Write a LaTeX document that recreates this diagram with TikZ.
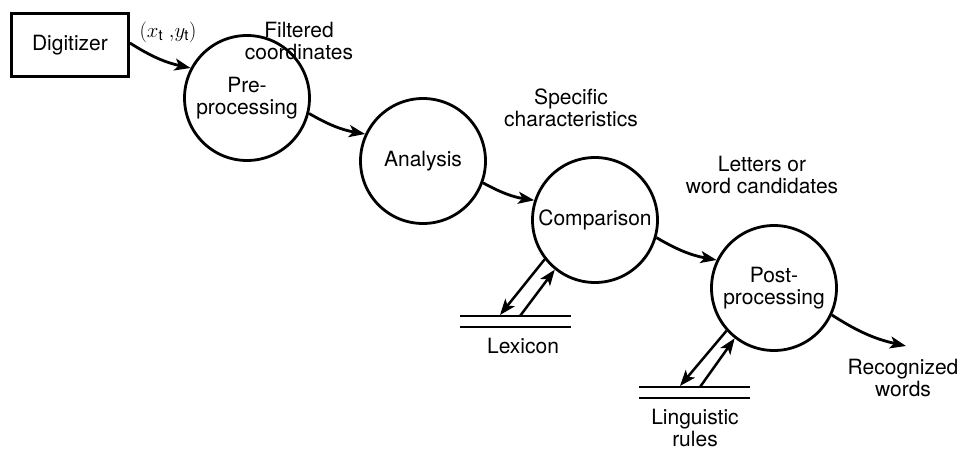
\documentclass[tikz,border=0pt]{standalone}
\usepackage{fontspec}
\setmainfont{TeX Gyre Heros}
\usetikzlibrary{arrows.meta}
\begin{document}
\begin{tikzpicture}[x=1pt,y=-1pt,
  txt/.style={align=center, inner sep=0pt, font=\fontsize{21}{21.5}\selectfont},
  proc/.style={circle, draw, line width=2.8pt, minimum size=125pt, inner sep=0pt, align=center, font=\fontsize{21}{21.5}\selectfont},
  boxnode/.style={draw, line width=2.8pt, minimum width=117pt, minimum height=63pt, inner sep=0pt, font=\fontsize{21}{21.5}\selectfont},
  flow/.style={-{Stealth[length=16pt,width=12pt,inset=4pt]}, line width=2.8pt},
  store/.style={line width=2.6pt}]
\useasboundingbox (0,0) rectangle (961,452);

\node[boxnode] (dig) at (70,45) {Digitizer};
\node[proc] (pre) at (247,98) {Pre-\\processing};
\node[proc] (ana) at (423,161) {Analysis};
\node[proc] (cmp) at (595,220) {Comparison};
\node[proc] (post) at (774,288) {Post-\\processing};

\node[txt] (xy) at (168,32) {$(x_{\mathrm{t}}\;{,}y_{\mathrm{t}})$};
\node[txt] (filt) at (299,41) {Filtered\\coordinates};
\node[txt] (spec) at (571,108) {Specific\\characteristics};
\node[txt] (lett) at (762,175) {Letters or\\word candidates};
\node[txt] (lexl) at (523,346) {Lexicon};
\node[txt] (ling) at (695,428) {Linguistic\\rules};
\node[txt] (recw) at (903,378) {Recognized\\words};

% data stores
\coordinate (lex1a) at (460,316);
\coordinate (lex1b) at (571,316);
\coordinate (lex2a) at (460,327);
\coordinate (lex2b) at (571,327);
\draw[store] (lex1a) -- (lex1b);
\draw[store] (lex2a) -- (lex2b);
\coordinate (lin1a) at (639,387);
\coordinate (lin1b) at (750,387);
\coordinate (lin2a) at (639,398);
\coordinate (lin2b) at (750,398);
\draw[store] (lin1a) -- (lin1b);
\draw[store] (lin2a) -- (lin2b);

\coordinate (lexdn) at (500,315);
\coordinate (lexup) at (520,316);
\coordinate (lindn) at (680,386);
\coordinate (linup) at (700,387);
\coordinate (recend) at (906,346);

% flow arrows
\draw[flow] ([yshift=2pt]dig.east) to[bend right=10] (pre.152);
\draw[flow] (pre.-14) to[bend right=10] (ana.155);
\draw[flow] (ana.-20) to[bend right=10] (cmp.162);
\draw[flow] (cmp.-16) to[bend right=10] (post.154);
\draw[flow] (post.-25) to[bend right=10] (recend);

% store arrows
\draw[flow, line width=2.5pt] (cmp.-142) -- (lexdn);
\draw[flow, line width=2.5pt] (lexup) -- (cmp.-129);
\draw[flow, line width=2.5pt] (post.-138) -- (lindn);
\draw[flow, line width=2.5pt] (linup) -- (post.-128);
\end{tikzpicture}
\end{document}
